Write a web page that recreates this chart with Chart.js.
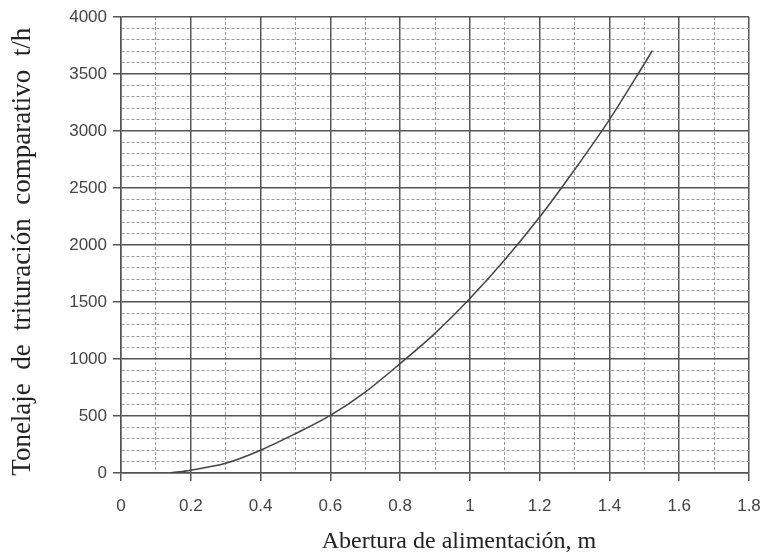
<!DOCTYPE html>
<html>
<head>
<meta charset="utf-8">
<script src="https://cdn.jsdelivr.net/npm/chart.js@4.4.1/dist/chart.umd.min.js"></script>
<style>
  html, body { margin: 0; padding: 0; background: #fff; }
  canvas { display: block; }
</style>
</head>
<body>
<canvas id="chart" width="765" height="556"></canvas>
<script>
// Curva: abertura de alimentación (m) vs tonelaje (t/h)
const abertura = [0.14, 0.2, 0.3, 0.4, 0.5, 0.6, 0.7, 0.8, 0.9, 1.0, 1.1, 1.2, 1.3, 1.4, 1.5, 1.523];
const tonelaje = [0, 25, 85, 200, 345, 505, 710, 960, 1225, 1530, 1870, 2245, 2660, 3100, 3590, 3705];

// etiquetas de los ejes
const xLabels = [0, 0.2, 0.4, 0.6, 0.8, 1, 1.2, 1.4, 1.6, 1.8];
const yLabels = [0, 500, 1000, 1500, 2000, 2500, 3000, 3500, 4000];

const MAJOR = '#555';
const MINOR = '#999';

function isMajorX(v) {
  return xLabels.some(l => Math.abs(l - v) < 1e-6);
}
function isMajorY(v) {
  return yLabels.some(l => Math.abs(l - v) < 1e-6);
}

const points = abertura.map((x, i) => ({ x: x, y: tonelaje[i] }));

new Chart(document.getElementById('chart'), {
  type: 'scatter',
  data: {
    datasets: [{
      data: points,
      showLine: true,
      borderColor: '#444',
      borderWidth: 1.5,
      pointRadius: 0,
      cubicInterpolationMode: 'monotone'
    }]
  },
  options: {
    responsive: false,
    animation: false,
    layout: { padding: { left: 0, right: 16, top: 17, bottom: 0 } },
    plugins: {
      legend: { display: false },
      tooltip: { enabled: false }
    },
    scales: {
      x: {
        type: 'linear',
        min: 0,
        max: 1.8,
        afterFit: (scale) => {
          scale.height = 83;
          scale.paddingLeft = 0;
          scale.paddingRight = 0;
        },
        ticks: {
          stepSize: 0.1,
          autoSkip: false,
          maxRotation: 0,
          padding: 15,
          color: '#444',
          font: { family: 'Liberation Sans', size: 17 },
          callback: (v) => isMajorX(v) ? String(Math.round(v * 10) / 10) : ''
        },
        grid: {
          color: (ctx) => ctx.tick && isMajorX(ctx.tick.value) ? MAJOR : MINOR,
          lineWidth: (ctx) => ctx.tick && isMajorX(ctx.tick.value) ? 1.5 : 1,
          tickColor: (ctx) => ctx.tick && isMajorX(ctx.tick.value) ? MAJOR : 'rgba(0,0,0,0)',
          tickLength: 8,
          tickWidth: 1.5
        },
        border: {
          color: MAJOR,
          width: 1.5,
          dash: (ctx) => ctx.tick && !isMajorX(ctx.tick.value) ? [3, 2] : []
        },
        title: {
          display: true,
          // los espacios iniciales desplazan el título a la derecha como en el original
          text: '\u2003\u2003Abertura de alimentación, m',
          color: '#222',
          font: { family: 'Liberation Serif', size: 24 },
          padding: { top: 0, bottom: 0 }
        }
      },
      y: {
        type: 'linear',
        min: 0,
        max: 4000,
        afterFit: (scale) => {
          scale.width = 121;
          scale.paddingTop = 0;
          scale.paddingBottom = 0;
        },
        ticks: {
          stepSize: 100,
          autoSkip: false,
          padding: 6,
          color: '#444',
          font: { family: 'Liberation Sans', size: 17 },
          callback: (v) => isMajorY(v) ? String(v) : ''
        },
        grid: {
          color: (ctx) => ctx.tick && isMajorY(ctx.tick.value) ? MAJOR : MINOR,
          lineWidth: (ctx) => ctx.tick && isMajorY(ctx.tick.value) ? 1.5 : 1,
          tickColor: (ctx) => ctx.tick && isMajorY(ctx.tick.value) ? MAJOR : 'rgba(0,0,0,0)',
          tickLength: 8,
          tickWidth: 1.5
        },
        border: {
          color: MAJOR,
          width: 1.5,
          dash: (ctx) => ctx.tick && !isMajorY(ctx.tick.value) ? [3, 2] : []
        },
        title: {
          display: true,
          text: 'Tonelaje\u2002de\u2002trituración\u2002comparativo\u2002t/h\u2002',
          color: '#222',
          font: { family: 'Liberation Serif', size: 27 },
          padding: { top: 7, bottom: 0 }
        }
      }
    }
  }
});
</script>
</body>
</html>
